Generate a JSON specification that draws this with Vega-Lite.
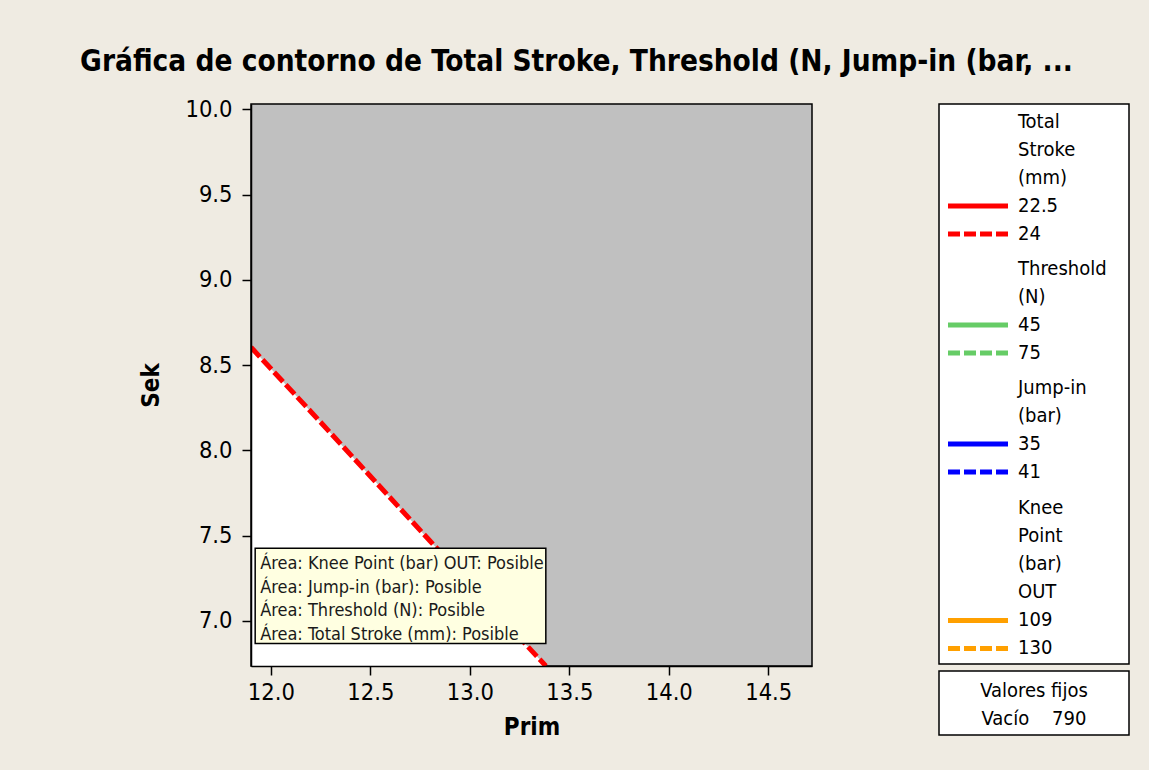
{
  "$schema": "https://vega.github.io/schema/vega-lite/v6.json",
  "background": "#EFEBE2",
  "padding": {"left": 80, "top": 47, "right": 25, "bottom": 40},
  "title": {
    "text": "Gráfica de contorno de Total Stroke, Threshold (N, Jump-in (bar, ...",
    "fontSize": 29.5,
    "font": "DejaVu Sans Condensed",
    "fontWeight": "bold",
    "color": "black",
    "anchor": "middle",
    "offset": 19,
    "dx": -58
  },
  "config": {
    "font": "DejaVu Sans Condensed",
    "view": {"stroke": null},
    "concat": {"spacing": 125}
  },
  "datasets": {
    "contour": [
      {"Prim": 11.9, "Sek": 8.604},
      {"Prim": 12.2, "Sek": 8.228},
      {"Prim": 12.5, "Sek": 7.848},
      {"Prim": 12.8, "Sek": 7.468},
      {"Prim": 13.1, "Sek": 7.09},
      {"Prim": 13.382, "Sek": 6.735}
    ],
    "note": [
      {"note": "Área: Knee Point (bar) OUT: Posible\nÁrea: Jump-in (bar): Posible\nÁrea: Threshold (N): Posible\nÁrea: Total Stroke (mm): Posible"}
    ]
  },
  "hconcat": [
    {
      "width": 561,
      "height": 562,
      "view": {"fill": "#C0C0C0", "stroke": "black", "strokeWidth": 1.5},
      "layer": [
        {
          "data": {"name": "contour"},
          "mark": {"type": "area", "color": "white", "clip": true},
          "encoding": {
            "x": {
              "field": "Prim",
              "type": "quantitative",
              "scale": {"domain": [11.9, 14.72], "nice": false, "zero": false},
              "axis": {
                "title": "Prim",
                "values": [12, 12.5, 13, 13.5, 14, 14.5],
                "format": ".1f",
                "labelFontSize": 23.5,
                "labelColor": "black",
                "titleFontSize": 24,
                "titleFontWeight": "bold",
                "titleColor": "black",
                "tickSize": 9,
                "tickWidth": 1.5,
                "tickColor": "black",
                "domainColor": "black",
                "domainWidth": 1.5,
                "labelPadding": 5,
                "titlePadding": 12,
                "grid": false,
                "zindex": 1
              }
            },
            "y": {
              "field": "Sek",
              "type": "quantitative",
              "scale": {"domain": [6.735, 10.031], "nice": false, "zero": false},
              "axis": {
                "title": "Sek",
                "values": [7, 7.5, 8, 8.5, 9, 9.5, 10],
                "format": ".1f",
                "labelFontSize": 23.5,
                "labelColor": "black",
                "titleFontSize": 24,
                "titleFontWeight": "bold",
                "titleColor": "black",
                "tickSize": 9,
                "tickWidth": 1.5,
                "tickColor": "black",
                "domainColor": "black",
                "domainWidth": 1.5,
                "labelPadding": 10,
                "titlePadding": 21,
                "grid": false,
                "zindex": 1
              }
            },
            "y2": {"datum": 6.735}
          }
        },
        {
          "data": {"name": "contour"},
          "mark": {"type": "line", "color": "#FF0000", "strokeWidth": 5, "strokeDash": [13, 4], "clip": true},
          "encoding": {
            "x": {"field": "Prim", "type": "quantitative"},
            "y": {"field": "Sek", "type": "quantitative"}
          }
        },
        {
          "data": {"name": "note"},
          "mark": {"type": "rect", "fill": "#FFFFE1", "stroke": "black", "strokeWidth": 1.5},
          "encoding": {
            "x": {"datum": 11.921, "type": "quantitative"},
            "x2": {"datum": 13.382},
            "y": {"datum": 7.426, "type": "quantitative"},
            "y2": {"datum": 6.867}
          }
        },
        {
          "data": {"name": "note"},
          "mark": {"type": "text", "align": "left", "baseline": "alphabetic", "lineBreak": "\n", "lineHeight": 23.8, "fontSize": 18, "color": "#1a1a1a"},
          "encoding": {
            "x": {"datum": 11.946, "type": "quantitative"},
            "y": {"datum": 7.305, "type": "quantitative"},
            "text": {"field": "note", "type": "nominal"}
          }
        }
      ]
    },
    {
      "spacing": 5,
      "vconcat": [
        {
          "width": 190,
          "height": 560,
          "view": {"fill": "white", "stroke": "black", "strokeWidth": 1.5},
          "data": {
            "values": [
              {"line": 0, "label": "Total", "group": "Total Stroke (mm)"},
              {"line": 1, "label": "Stroke", "group": "Total Stroke (mm)"},
              {"line": 2, "label": "(mm)", "group": "Total Stroke (mm)"},
              {"line": 3, "label": "22.5", "group": "Total Stroke (mm)", "bound": "lower"},
              {"line": 4, "label": "24", "group": "Total Stroke (mm)", "bound": "upper"},
              {"line": 5.25, "label": "Threshold", "group": "Threshold (N)"},
              {"line": 6.25, "label": "(N)", "group": "Threshold (N)"},
              {"line": 7.25, "label": "45", "group": "Threshold (N)", "bound": "lower"},
              {"line": 8.25, "label": "75", "group": "Threshold (N)", "bound": "upper"},
              {"line": 9.5, "label": "Jump-in", "group": "Jump-in (bar)"},
              {"line": 10.5, "label": "(bar)", "group": "Jump-in (bar)"},
              {"line": 11.5, "label": "35", "group": "Jump-in (bar)", "bound": "lower"},
              {"line": 12.5, "label": "41", "group": "Jump-in (bar)", "bound": "upper"},
              {"line": 13.8, "label": "Knee", "group": "Knee Point (bar) OUT"},
              {"line": 14.8, "label": "Point", "group": "Knee Point (bar) OUT"},
              {"line": 15.8, "label": "(bar)", "group": "Knee Point (bar) OUT"},
              {"line": 16.8, "label": "OUT", "group": "Knee Point (bar) OUT"},
              {"line": 17.8, "label": "109", "group": "Knee Point (bar) OUT", "bound": "lower"},
              {"line": 18.8, "label": "130", "group": "Knee Point (bar) OUT", "bound": "upper"}
            ]
          },
          "layer": [
            {
              "transform": [{"filter": "datum.bound != null"}],
              "mark": {"type": "rule", "strokeWidth": 5},
              "encoding": {
                "x": {"datum": 9, "type": "quantitative", "scale": {"domain": [0, 190]}, "axis": null},
                "x2": {"datum": 69},
                "y": {"field": "line", "type": "quantitative", "scale": {"domain": [-0.643, 19.357], "reverse": true}, "axis": null},
                "color": {
                  "field": "group",
                  "type": "nominal",
                  "scale": {
                    "domain": ["Total Stroke (mm)", "Threshold (N)", "Jump-in (bar)", "Knee Point (bar) OUT"],
                    "range": ["#FF0000", "#66CC66", "#0000FF", "#FFA000"]
                  },
                  "legend": null
                },
                "strokeDash": {
                  "field": "bound",
                  "type": "nominal",
                  "scale": {"domain": ["lower", "upper"], "range": [[1, 0], [12, 4]]},
                  "legend": null
                }
              }
            },
            {
              "mark": {"type": "text", "align": "left", "baseline": "middle", "fontSize": 20, "color": "black"},
              "encoding": {
                "x": {"datum": 79, "type": "quantitative", "scale": {"domain": [0, 190]}, "axis": null},
                "y": {"field": "line", "type": "quantitative", "scale": {"domain": [-0.643, 19.357], "reverse": true}, "axis": null},
                "text": {"field": "label", "type": "nominal"}
              }
            }
          ]
        },
        {
          "width": 190,
          "height": 64,
          "view": {"fill": "white", "stroke": "black", "strokeWidth": 1.5},
          "data": {
            "values": [
              {"line": 0, "text": "Valores fijos"},
              {"line": 1, "text": "Vacío\u00a0\u00a0\u00a0\u00a0790"}
            ]
          },
          "mark": {"type": "text", "align": "center", "baseline": "middle", "fontSize": 20, "color": "black"},
          "encoding": {
            "x": {"datum": 95, "type": "quantitative", "scale": {"domain": [0, 190]}, "axis": null},
            "y": {"field": "line", "type": "quantitative", "scale": {"domain": [-0.714, 1.571], "reverse": true}, "axis": null},
            "text": {"field": "text", "type": "nominal"}
          }
        }
      ]
    }
  ]
}
